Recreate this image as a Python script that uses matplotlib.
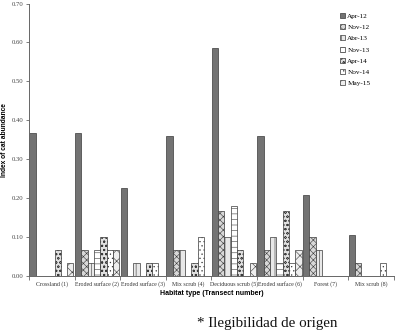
import matplotlib
matplotlib.use("Agg")
import matplotlib.pyplot as plt
import numpy as np

categories = ["Crossland (1)", "Eroded surface (2)", "Eroded surface (3)", "Mix scrub (4)",
              "Deciduous scrub (5)", "Eroded surface (6)", "Forest (7)", "Mix scrub (8)"]
series_names = ["Apr-12", "Nov-12", "Abr-13", "Nov-13", "Apr-14", "Nov-14", "May-15"]
apr12 = [0.367, 0.367, 0.225, 0.360, 0.585, 0.358, 0.207, 0.104]
nov12 = [0.0, 0.067, 0.0, 0.067, 0.167, 0.067, 0.100, 0.033]
abr13 = [0.0, 0.033, 0.033, 0.067, 0.100, 0.100, 0.067, 0.0]
nov13 = [0.0, 0.067, 0.0, 0.0, 0.178, 0.033, 0.0, 0.0]
apr14 = [0.067, 0.100, 0.033, 0.033, 0.067, 0.167, 0.0, 0.0]
nov14 = [0.0, 0.067, 0.033, 0.100, 0.0, 0.033, 0.0, 0.033]
may15 = [0.033, 0.067, 0.0, 0.0, 0.033, 0.067, 0.0, 0.0]
series = [apr12, nov12, abr13, nov13, apr14, nov14, may15]
yticks = [0.0, 0.1, 0.2, 0.3, 0.4, 0.5, 0.6, 0.7]

styles = [
    dict(facecolor="#737373", hatch=None),
    dict(facecolor="#d8d8d8", hatch="xxxxx"),
    dict(facecolor="#e8e8e8", hatch="|||"),
    dict(facecolor="white", hatch="---"),
    dict(facecolor="#e0e0e0", hatch="oooo"),
    dict(facecolor="white", hatch="...."),
    dict(facecolor="#eeeeee", hatch="xxx"),
]

plt.rcParams["hatch.linewidth"] = 0.4
fig = plt.figure(figsize=(4.06, 3.36), dpi=100)
ax = fig.add_axes([0.0714, 0.1795, 0.8986, 0.81])

bw = 0.138
x = np.arange(len(categories))
for j, (name, vals) in enumerate(zip(series_names, series)):
    st = styles[j]
    ax.bar(x + 0.01 + j * bw, vals, width=bw, align="edge",
           facecolor=st["facecolor"], hatch=st["hatch"],
           edgecolor="#3a3a3a", linewidth=0.5, label=name)

ax.set_xlim(0, len(categories))
ax.set_ylim(0, 0.70)
ax.set_yticks(yticks)
ax.set_yticklabels([f"{v:.2f}" for v in yticks], fontsize=4.8, family="Liberation Serif", color="#444444")
ax.set_xticks(np.arange(len(categories) + 1))
ax.set_xticklabels([])
ax.set_xticks(x + 0.5, minor=True)
ax.set_xticklabels(categories, minor=True, fontsize=4.2, family="Liberation Serif", color="#333333")
ax.tick_params(axis="x", which="minor", length=0, pad=4)
ax.tick_params(axis="x", which="major", length=3, width=0.6, color="#666666")
ax.tick_params(axis="y", length=2, width=0.6, color="#666666", pad=2)
for s in ["top", "right"]:
    ax.spines[s].set_visible(False)
for s in ["left", "bottom"]:
    ax.spines[s].set_color("#666666")
    ax.spines[s].set_linewidth(0.7)

ax.set_ylabel("Index of cat abundance", fontsize=4.8, fontweight="bold", family="Liberation Sans", labelpad=3)
ax.set_xlabel("Habitat type (Transect number)", fontsize=5.0, fontweight="bold", family="Liberation Sans", labelpad=2)

ax.legend(loc="upper left", bbox_to_anchor=(0.835, 0.99), frameon=False,
          prop=dict(family="Liberation Serif", size=5.2),
          handlelength=0.7, handleheight=0.7, handletextpad=0.3, labelspacing=0.72)

fig.text(0.485, 0.028, "* Ilegibilidad de origen", fontsize=10.8, family="Liberation Serif", color="#111111")

fig.savefig("out.png", dpi=100)
